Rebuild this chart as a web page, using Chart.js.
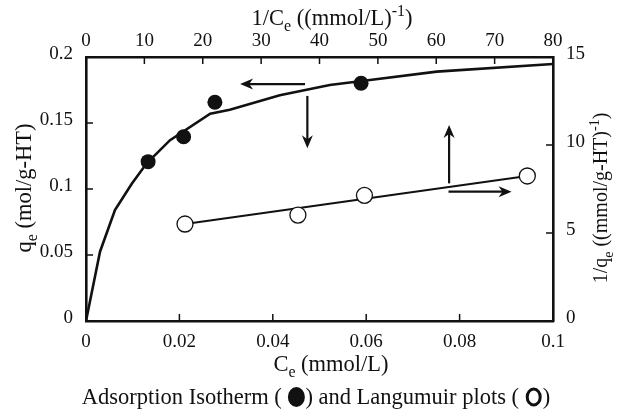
<!DOCTYPE html>
<html>
<head>
<meta charset="utf-8">
<script src="https://cdn.jsdelivr.net/npm/chart.js@4.4.0/dist/chart.umd.min.js"></script>
<style>
  html, body { margin: 0; padding: 0; background: #fff; }
  canvas { display: block; }
</style>
</head>
<body>
<canvas id="chart" width="623" height="413"></canvas>
<script>
// adsorption isotherm (filled circles) - bottom / left axes
const isoCe = [0.0133, 0.0209, 0.0276, 0.0589];
const isoQe = [0.1207, 0.1396, 0.1657, 0.1801];
// fitted isotherm curve
const curveCe = [0, 0.003, 0.0062, 0.0098, 0.013, 0.018, 0.0266, 0.0308, 0.0415, 0.0522, 0.0608, 0.0751, 0.1];
const curveQe = [0, 0.0525, 0.084, 0.104, 0.1195, 0.137, 0.157, 0.160, 0.171, 0.1788, 0.1826, 0.1889, 0.1947];
// Langmuir plot (open circles) - top / right axes
const invCe = [16.96, 36.3, 47.7, 75.6];
const invQe = [5.51, 6.02, 7.14, 8.24];
const lineInvCe = [16.96, 75.6];
const lineInvQe = [5.51, 8.24];

// tick labels
const ceTicks = [0, 0.02, 0.04, 0.06, 0.08, 0.1];
const ceLabels = ['0', '0.02', '0.04', '0.06', '0.08', '0.1'];
const invCeTicks = [0, 10, 20, 30, 40, 50, 60, 70, 80];
const qeTicks = [0, 0.05, 0.1, 0.15, 0.2];
const qeLabels = ['0', '0.05', '0.1', '0.15', '0.2'];
const invQeTicks = [0, 5, 10, 15];

// arrows: [fromX, fromY, toX, toY]
const isoArrows = [[0.0469, 0.1795, 0.0330, 0.1795], [0.0474, 0.1705, 0.0474, 0.1308]];
const invArrows = [[62.2, 7.82, 62.2, 11.14], [62.1, 7.35, 72.9, 7.35]];

const INK = '#111';
const SERIF = '"Liberation Serif", "Times New Roman", serif';
const TICK_FONT = { family: SERIF, size: 19 };

function xy(xs, ys) { return xs.map((x, i) => ({ x: x, y: ys[i] })); }

// text with sub/superscript runs, centred on x
function richText(ctx, x, y, parts, size) {
  const small = Math.round(size * 0.7);
  let total = 0;
  parts.forEach(p => {
    ctx.font = (p.sub || p.sup ? small : size) + 'px ' + SERIF;
    p.w = ctx.measureText(p.t).width;
    total += p.w;
  });
  let cx = x - total / 2;
  ctx.textAlign = 'left';
  ctx.textBaseline = 'alphabetic';
  parts.forEach(p => {
    ctx.font = (p.sub || p.sup ? small : size) + 'px ' + SERIF;
    const dy = p.sub ? size * 0.28 : (p.sup ? -size * 0.42 : 0);
    ctx.fillText(p.t, cx, y + dy);
    cx += p.w;
  });
}

function arrow(ctx, x1, y1, x2, y2) {
  const a = Math.atan2(y2 - y1, x2 - x1);
  const len = 13, half = 5.5;
  ctx.beginPath();
  ctx.moveTo(x1, y1);
  ctx.lineTo(x2 - Math.cos(a) * 6, y2 - Math.sin(a) * 6);
  ctx.stroke();
  ctx.save();
  ctx.translate(x2, y2);
  ctx.rotate(a);
  ctx.beginPath();
  ctx.moveTo(0, 0);
  ctx.lineTo(-len, -half);
  ctx.lineTo(-len * 0.7, 0);
  ctx.lineTo(-len, half);
  ctx.closePath();
  ctx.fill();
  ctx.restore();
}

const decorations = {
  id: 'decorations',
  afterDatasetsDraw(chart) {
    const ctx = chart.ctx;
    const s = chart.scales;
    ctx.save();
    ctx.strokeStyle = INK;
    ctx.fillStyle = INK;
    ctx.lineWidth = 2.2;
    isoArrows.forEach(a => arrow(ctx, s.x.getPixelForValue(a[0]), s.y.getPixelForValue(a[1]),
      s.x.getPixelForValue(a[2]), s.y.getPixelForValue(a[3])));
    invArrows.forEach(a => arrow(ctx, s.x2.getPixelForValue(a[0]), s.y2.getPixelForValue(a[1]),
      s.x2.getPixelForValue(a[2]), s.y2.getPixelForValue(a[3])));
    ctx.restore();
  },
  afterDraw(chart) {
    const ctx = chart.ctx;
    const s = chart.scales;
    const area = chart.chartArea;
    ctx.save();
    ctx.strokeStyle = INK;
    ctx.fillStyle = INK;
    // inward tick marks
    ctx.lineWidth = 1.5;
    const tl = 7;
    ctx.beginPath();
    ceTicks.forEach(v => { const p = s.x.getPixelForValue(v); ctx.moveTo(p, area.bottom); ctx.lineTo(p, area.bottom - tl); });
    invCeTicks.forEach(v => { const p = s.x2.getPixelForValue(v); ctx.moveTo(p, area.top); ctx.lineTo(p, area.top + tl); });
    qeTicks.forEach(v => { const p = s.y.getPixelForValue(v); ctx.moveTo(area.left, p); ctx.lineTo(area.left + tl, p); });
    invQeTicks.forEach(v => { const p = s.y2.getPixelForValue(v); ctx.moveTo(area.right, p); ctx.lineTo(area.right - tl, p); });
    ctx.stroke();

    // axis titles
    richText(ctx, 332, 25, [{ t: '1/C' }, { t: 'e', sub: true }, { t: ' ((mmol/L)' }, { t: '-1', sup: true }, { t: ')' }], 22.5);
    richText(ctx, 331, 371, [{ t: 'C' }, { t: 'e', sub: true }, { t: ' (mmol/L)' }], 22.5);
    ctx.save();
    ctx.translate(31, 188);
    ctx.rotate(-Math.PI / 2);
    richText(ctx, 0, 0, [{ t: 'q' }, { t: 'e', sub: true }, { t: ' (mol/g-HT)' }], 22.5);
    ctx.restore();
    ctx.save();
    ctx.translate(607, 198);
    ctx.rotate(-Math.PI / 2);
    richText(ctx, 0, 0, [{ t: '1/q' }, { t: 'e', sub: true }, { t: ' ((mmol/g-HT)' }, { t: '-1', sup: true }, { t: ')' }], 20);
    ctx.restore();

    // caption with symbol keys
    const size = 22.5;
    ctx.font = size + 'px ' + SERIF;
    ctx.textAlign = 'left';
    ctx.textBaseline = 'alphabetic';
    const t1 = 'Adsorption Isotherm ( ', t2 = ') and Langumuir plots ( ', t3 = ')';
    const sym = 18;
    const w = ctx.measureText(t1).width + sym + ctx.measureText(t2).width + sym + ctx.measureText(t3).width;
    let cx = 316 - w / 2;
    const by = 404;
    ctx.fillText(t1, cx, by); cx += ctx.measureText(t1).width;
    ctx.beginPath();
    ctx.ellipse(cx + sym / 2, by - 7, 8.5, 10, 0, 0, Math.PI * 2);
    ctx.fill();
    cx += sym;
    ctx.fillText(t2, cx, by); cx += ctx.measureText(t2).width;
    ctx.lineWidth = 3;
    ctx.beginPath();
    ctx.ellipse(cx + sym / 2, by - 7, 6.5, 8, 0, 0, Math.PI * 2);
    ctx.stroke();
    cx += sym;
    ctx.fillText(t3, cx, by);
    ctx.restore();
  }
};

function axis(position, min, max, ticks, labels, size, padding) {
  const horizontal = position === 'top' || position === 'bottom';
  return {
    type: 'linear',
    position: position,
    min: min,
    max: max,
    grid: { display: false, drawTicks: false },
    border: { display: true, color: INK, width: 2.6 },
    afterBuildTicks: sc => { sc.ticks = ticks.map(v => ({ value: v })); },
    afterFit: sc => { if (horizontal) sc.height = size; else sc.width = size; },
    ticks: {
      color: INK,
      font: TICK_FONT,
      padding: padding,
      maxRotation: 0,
      autoSkip: false,
      labelOffset: horizontal ? 0 : -3,
      callback: (v, i) => labels[i]
    }
  };
}

new Chart(document.getElementById('chart'), {
  data: {
    datasets: [
      { type: 'scatter', data: xy(isoCe, isoQe), xAxisID: 'x', yAxisID: 'y',
        pointRadius: 7.5, pointBackgroundColor: INK, pointBorderWidth: 0, order: 1 },
      { type: 'scatter', data: xy(invCe, invQe), xAxisID: 'x2', yAxisID: 'y2',
        pointRadius: 8, pointBackgroundColor: '#fff', pointBorderColor: INK, pointBorderWidth: 1.3, order: 2 },
      { type: 'line', data: xy(curveCe, curveQe), xAxisID: 'x', yAxisID: 'y',
        borderColor: INK, borderWidth: 2.6, pointRadius: 0, tension: 0, fill: false, order: 3 },
      { type: 'line', data: xy(lineInvCe, lineInvQe), xAxisID: 'x2', yAxisID: 'y2',
        borderColor: INK, borderWidth: 2, pointRadius: 0, tension: 0, fill: false, order: 4 }
    ]
  },
  options: {
    responsive: false,
    animation: false,
    devicePixelRatio: 1,
    layout: { padding: 0 },
    plugins: { legend: { display: false }, tooltip: { enabled: false } },
    scales: {
      x: axis('bottom', 0, 0.1, ceTicks, ceLabels, 92, 10),
      x2: axis('top', 0, 80, invCeTicks, invCeTicks.map(String), 57, 5),
      y: axis('left', 0, 0.2, qeTicks, qeLabels, 86, 13),
      y2: axis('right', 0, 15, invQeTicks, invQeTicks.map(String), 70, 13)
    }
  },
  plugins: [decorations]
});
</script>
</body>
</html>
